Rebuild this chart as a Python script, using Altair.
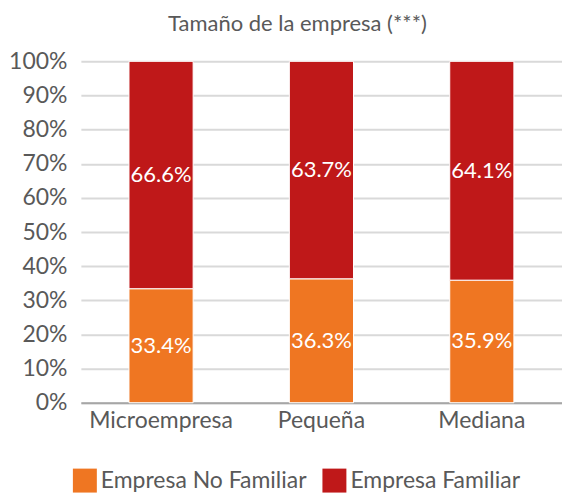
import altair as alt
import pandas as pd

categories = ["Microempresa", "Pequeña", "Mediana"]
no_familiar = [33.4, 36.3, 35.9]
familiar = [66.6, 63.7, 64.1]
series = ["Empresa No Familiar", "Empresa Familiar"]
colors = ["#EF7622", "#BF1819"]
ticks = [0, 10, 20, 30, 40, 50, 60, 70, 80, 90, 100]

rows = []
for i, c in enumerate(categories):
    rows.append({"cat": c, "serie": series[0], "val": no_familiar[i], "ord": 0})
    rows.append({"cat": c, "serie": series[1], "val": familiar[i], "ord": 1})
df = pd.DataFrame(rows)

font = "Lato"
grey = "#595959"

base = alt.Chart(df).transform_stack(
    stack="val", as_=["v0", "v1"], groupby=["cat"], sort=[alt.SortField("ord")]
).transform_calculate(
    mid="(datum.v0 + datum.v1) / 2",
    lbl="format(datum.val, '.1f') + '%'"
)

x = alt.X("cat:N", sort=categories, title=None,
          scale=alt.Scale(paddingInner=0.6, paddingOuter=0.3),
          axis=alt.Axis(labelAngle=0, labelFont=font, labelFontSize=23,
                        labelColor=grey, labelPadding=7, ticks=False,
                        domainColor="#A6A6A6", domainWidth=2))

yscale = alt.Scale(domain=[0, 100], nice=False)
yaxis = alt.Axis(values=ticks, labelExpr="datum.value + '%'",
                 labelOverlap=False, labelFont=font, labelFontSize=23,
                 labelColor=grey, labelPadding=14, ticks=False, domain=False,
                 gridColor="#D9D9D9", gridWidth=2)

bars = base.mark_bar(stroke="white", strokeWidth=1).encode(
    x=x,
    y=alt.Y("v0:Q", title=None, scale=yscale, axis=yaxis),
    y2="v1:Q",
    color=alt.Color("serie:N", scale=alt.Scale(domain=series, range=colors),
                    legend=alt.Legend(title=None, orient="none",
                                      legendX=-8, legendY=408,
                                      direction="horizontal",
                                      symbolType="square", symbolSize=576,
                                      symbolStrokeWidth=0, labelLimit=0,
                                      labelFont=font, labelFontSize=23,
                                      labelColor=grey, columnPadding=15,
                                      labelOffset=4)),
)

labels = base.mark_text(color="white", font=font, fontSize=22).encode(
    x=x,
    y=alt.Y("mid:Q", title=None, scale=yscale, axis=yaxis),
    text="lbl:N",
)

chart = alt.layer(bars, labels).properties(
    width=482, height=342,
    padding={"left": 73, "top": 53, "right": 0, "bottom": 92},
    autosize=alt.AutoSizeParams(type="none"),
    title=alt.TitleParams("Tamaño de la empresa (***)", font=font, fontSize=22,
                          fontWeight="normal", color=grey, anchor="middle",
                          dx=-24, offset=14),
).configure_view(stroke=None)

chart.save("out.html", embed_options={"renderer": "svg", "actions": False})
